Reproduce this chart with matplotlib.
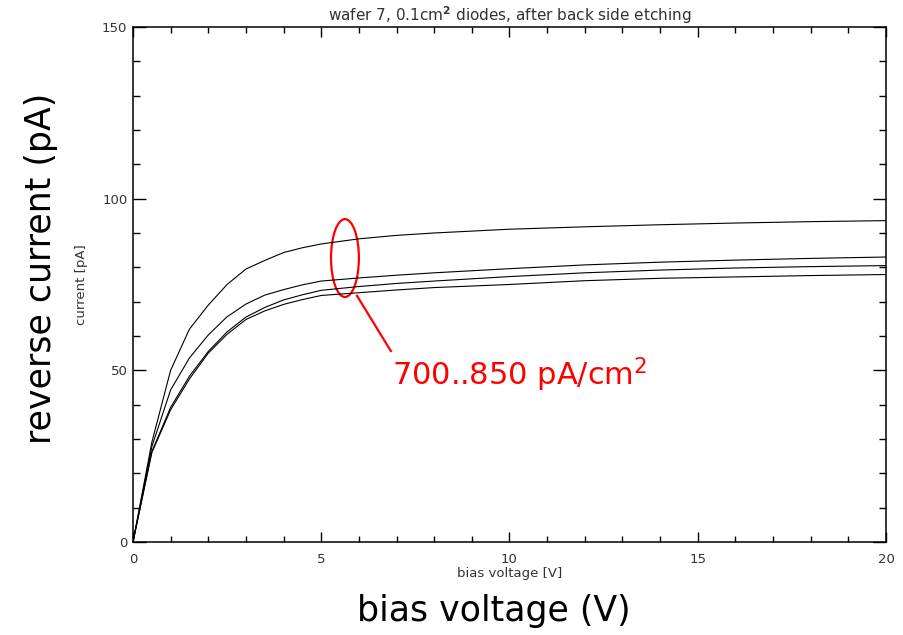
import numpy as np
import matplotlib
matplotlib.use('Agg')
import matplotlib.pyplot as plt
from matplotlib.patches import Ellipse
from matplotlib.ticker import MultipleLocator

# bias voltage [V]
volts = [0, 0.5, 1, 1.5, 2, 2.5, 3, 3.5, 4, 4.5, 5, 6, 7, 8, 10, 12, 14, 16, 18, 20]

# reverse current [pA] for the four diodes
diode_a = [0, 29, 50, 62, 69, 75, 79.5, 82, 84.3, 85.7, 86.8, 88.3, 89.3, 90.0, 91.1, 91.8, 92.4, 92.9, 93.3, 93.6]
diode_b = [0, 27.7, 44.3, 53.6, 60.3, 65.6, 69.3, 71.9, 73.5, 74.9, 76.0, 76.9, 77.7, 78.4, 79.6, 80.7, 81.5, 82.1, 82.6, 83.0]
diode_c = [0, 26.3, 39.2, 48.3, 55.5, 61.2, 65.5, 68.3, 70.5, 72.0, 73.3, 74.4, 75.3, 76.0, 77.3, 78.4, 79.2, 79.8, 80.2, 80.5]
diode_d = [0, 26.0, 38.5, 47.5, 55.0, 60.5, 64.8, 67.3, 69.2, 70.6, 71.8, 72.6, 73.4, 74.1, 75.0, 76.1, 76.8, 77.2, 77.6, 77.9]

fig = plt.figure(figsize=(9.04, 6.35), dpi=100)
ax = fig.add_axes([0.1471, 0.1465, 0.9801 - 0.1471, 0.9575 - 0.1465])

for ys in (diode_a, diode_b, diode_c, diode_d):
    ax.plot(volts, ys, color='black', lw=0.8)

ax.set_xlim(0, 20)
ax.set_ylim(0, 150)
ax.xaxis.set_major_locator(MultipleLocator(5))
ax.xaxis.set_minor_locator(MultipleLocator(1))
ax.yaxis.set_major_locator(MultipleLocator(50))
ax.yaxis.set_minor_locator(MultipleLocator(10))
ax.tick_params(axis='x', which='both', direction='in', top=True, labelsize=9.5,
               labelcolor='#333333', pad=8)
ax.tick_params(axis='y', which='both', direction='in', right=True, labelsize=9.5,
               labelcolor='#333333', pad=4)
ax.tick_params(axis='x', which='major', length=7.5, width=1)
ax.tick_params(axis='x', which='minor', length=4, width=1)
ax.tick_params(axis='y', which='major', length=9.5, width=1)
ax.tick_params(axis='y', which='minor', length=5, width=1)
for s in ax.spines.values():
    s.set_linewidth(1.1)

ax.set_title('wafer 7, 0.1cm$^\\mathbf{2}$ diodes, after back side etching',
             fontsize=11, color='#333333', pad=4)
ax.set_xlabel('bias voltage [V]', fontsize=9.5, color='#333333', labelpad=1)
ax.set_ylabel('current [pA]', fontsize=9.5, color='#333333', labelpad=10)

# big overlay labels
fig.text(0.546, 0.038, 'bias voltage (V)', fontsize=25, ha='center', va='center')
fig.text(0.045, 0.578, 'reverse current (pA)', fontsize=25, ha='center', va='center',
         rotation=90)

# red annotation
ax.add_patch(Ellipse((5.63, 82.7), 0.74, 22.7, fill=False, edgecolor='red', lw=1.6))
ax.plot([5.95, 6.85], [71.7, 55.6], color='red', lw=1.6)
ax.text(6.88, 45.7, '700..850 pA/cm$^2$', color='red', fontsize=22, ha='left', va='baseline')

fig.savefig('out.png', dpi=100)
